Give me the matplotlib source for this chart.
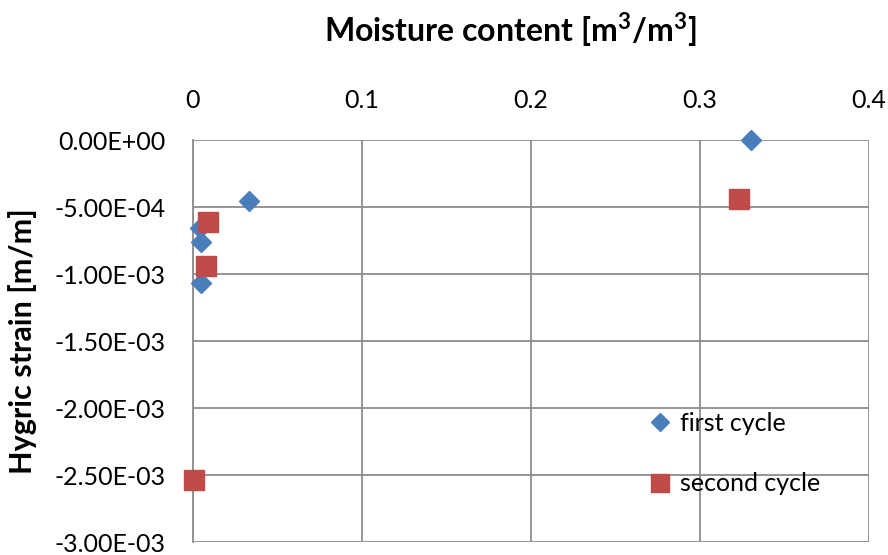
import matplotlib.pyplot as plt
from matplotlib.ticker import FuncFormatter

plt.rcParams['font.family'] = ['Lato', 'DejaVu Sans']
plt.rcParams['mathtext.fontset'] = 'custom'
plt.rcParams['mathtext.rm'] = 'Lato'
plt.rcParams['mathtext.bf'] = 'Lato:bold'

# moisture content [m3/m3] and hygric strain [m/m]
first_x = [0.330, 0.033, 0.004, 0.005, 0.005]
first_y = [0.0, -4.55e-4, -6.6e-4, -7.6e-4, -1.07e-3]
second_x = [0.323, 0.009, 0.008, 0.0005]
second_y = [-4.4e-4, -6.1e-4, -9.4e-4, -2.54e-3]

fig = plt.figure(figsize=(8.88, 5.55), dpi=100)
ax = fig.add_axes([0.2173, 0.0234, 0.7613, 0.7243])

ax.plot(first_x, first_y, linestyle="none", marker="D", ms=10.5,
        color="#4a7ebb", label="first cycle", zorder=3, clip_on=False)
ax.plot(second_x, second_y, linestyle="none", marker="s", ms=14,
        color="#be4b48", label="second cycle", zorder=3, clip_on=False)

ax.set_xlim(0, 0.4)
ax.set_ylim(-3e-3, 0)
ax.set_xticks([0, 0.1, 0.2, 0.3, 0.4])
ax.set_yticks([-3e-3, -2.5e-3, -2e-3, -1.5e-3, -1e-3, -5e-4, 0])
ax.xaxis.set_major_formatter(FuncFormatter(lambda v, p: "0" if v == 0 else "%g" % v))
ax.yaxis.set_major_formatter(FuncFormatter(lambda v, p: ("%.2E" % v).replace("-0.00", "0.00")))
ax.xaxis.tick_top()
ax.xaxis.set_label_position("top")
ax.tick_params(axis="both", labelsize=18, length=0, pad=20)

ax.grid(True, color="#8c8c8c", linewidth=1.3)
for side in ["top", "right", "bottom"]:
    ax.spines[side].set_visible(False)
ax.spines["left"].set_color("#8c8c8c")
ax.spines["left"].set_linewidth(1.3)

ax.set_xlabel(r"Moisture content [m$^\mathbf{3}$/m$^\mathbf{3}$]", fontsize=23,
              fontweight="bold", labelpad=34)
ax.xaxis.label.set_x(0.469)
ax.set_ylabel("Hygric strain [m/m]", fontsize=22, fontweight="bold", labelpad=12)

ax.legend(loc="upper left", bbox_to_anchor=(0.729, 0.258), bbox_transform=fig.transFigure,
          frameon=False, fontsize=18, labelspacing=1.5, handletextpad=0.3,
          markerscale=0.9, handlelength=1.0, borderpad=0, borderaxespad=0)

plt.savefig("out.png")
